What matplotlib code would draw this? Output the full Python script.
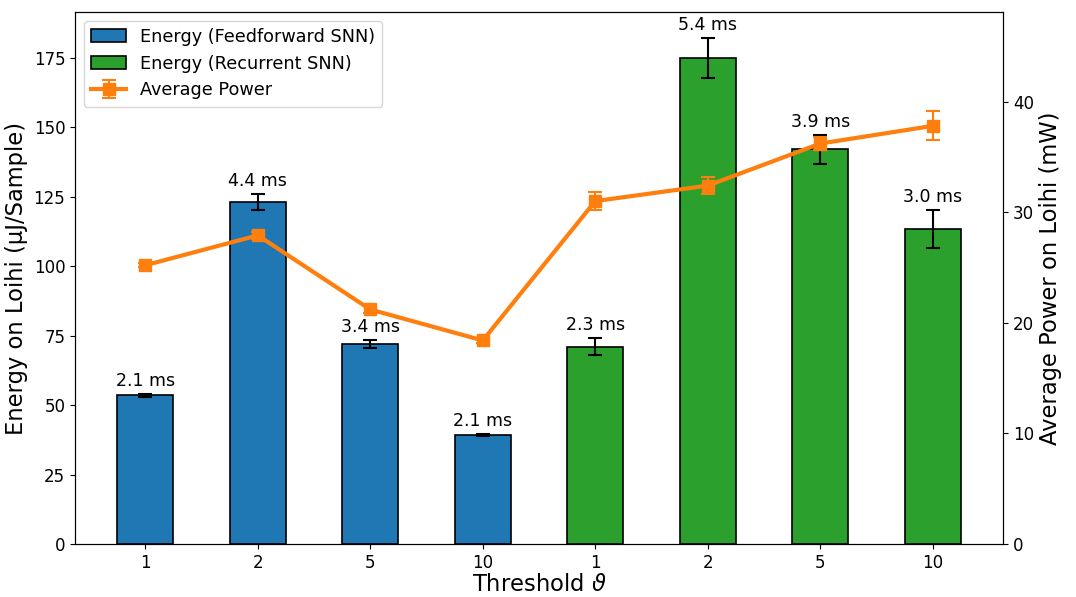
import matplotlib
matplotlib.use("Agg")
import matplotlib.pyplot as plt
import numpy as np

thresholds = ["1", "2", "5", "10", "1", "2", "5", "10"]
energy_ff = [53.6, 123.1, 72.0, 39.2]
energy_ff_err = [0.5, 2.9, 1.5, 0.4]
energy_rec = [71.0, 175.0, 142.2, 113.4]
energy_rec_err = [3.0, 7.3, 5.2, 6.7]
latency_labels = ["2.1 ms", "4.4 ms", "3.4 ms", "2.1 ms", "2.3 ms", "5.4 ms", "3.9 ms", "3.0 ms"]
power = [25.2, 27.9, 21.2, 18.4, 31.0, 32.4, 36.2, 37.8]
power_err = [0.2, 0.3, 0.3, 0.2, 0.85, 0.8, 0.6, 1.3]

fig = plt.figure(figsize=(10.76, 5.97), dpi=100)
ax = fig.add_axes([0.0697, 0.0888, 0.8625, 0.8912])

x = np.arange(len(thresholds))
xf = x[:4]
xr = x[4:]
b1 = ax.bar(xf, energy_ff, width=0.5, color="#1f77b4", edgecolor="black", linewidth=1.2,
            yerr=energy_ff_err, capsize=5, error_kw=dict(elinewidth=1.5, capthick=1.5),
            label="Energy (Feedforward SNN)")
b2 = ax.bar(xr, energy_rec, width=0.5, color="#2ca02c", edgecolor="black", linewidth=1.2,
            yerr=energy_rec_err, capsize=5, error_kw=dict(elinewidth=1.5, capthick=1.5),
            label="Energy (Recurrent SNN)")

allE = energy_ff + energy_rec
allErr = energy_ff_err + energy_rec_err
for xi, e, er, lab in zip(x, allE, allErr, latency_labels):
    ax.annotate(lab, (xi, e + er), xytext=(0, 3), textcoords="offset points",
                ha="center", va="bottom", fontsize=12.5)

ax.set_xticks(x)
ax.set_xticklabels(thresholds, fontsize=12)
ax.tick_params(axis="y", labelsize=12)
ax.set_xlabel("Threshold $\\vartheta$", fontsize=16.3, labelpad=1)
ax.set_ylabel("Energy on Loihi (µJ/Sample)", fontsize=16.3)
ax.set_ylim(0, 191.6)

ax2 = ax.twinx()
l = ax2.errorbar(x, power, yerr=power_err, color="#ff7f0e", marker="s", markersize=9,
                 linewidth=3, capsize=5, capthick=1.5, elinewidth=1.5, label="Average Power")
ax2.set_ylim(0, 48.1)
ax2.tick_params(axis="y", labelsize=12)
ax2.set_ylabel("Average Power on Loihi (mW)", fontsize=16.3)

handles = [b1, b2, l]
labels = [h.get_label() for h in handles]
ax.legend(handles, labels, loc="upper left", fontsize=12.7)

fig.savefig("out.png", dpi=100)
